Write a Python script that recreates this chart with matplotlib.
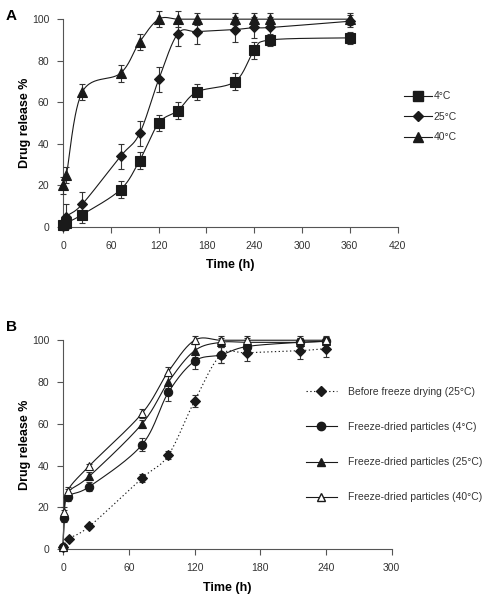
import numpy as np
import matplotlib
matplotlib.use("Agg")
import matplotlib.pyplot as plt
from matplotlib.lines import Line2D

plt.rcParams['font.family'] = ['Liberation Sans', 'DejaVu Sans']

# ---- Panel A data ----
t_a4 = [0, 4, 24, 72, 96, 120, 144, 168, 216, 240, 260, 360]
v_a4 = [1, 2, 6, 18, 32, 50, 56, 65, 70, 85, 90, 91]
e_a4 = [1, 2, 4, 4, 4, 4, 4, 4, 4, 4, 3, 3]

t_a25 = [0, 4, 24, 72, 96, 120, 144, 168, 216, 240, 260, 360]
v_a25 = [0.5, 5, 11, 34, 45, 71, 93, 94, 95, 96, 96, 99]
e_a25 = [2, 6, 6, 6, 6, 6, 6, 6, 6, 5, 5, 3]

t_a40 = [0, 4, 24, 72, 96, 120, 144, 168, 216, 240, 260, 360]
v_a40 = [20, 25, 65, 74, 89, 100, 100, 100, 100, 100, 100, 100]
e_a40 = [4, 4, 4, 4, 4, 4, 4, 3, 3, 3, 3, 3]

# ---- Panel B data ----
t_bb = [0, 5, 24, 72, 96, 120, 144, 168, 216, 240]
v_bb = [1, 5, 11, 34, 45, 71, 93, 94, 95, 96]
e_bb = [1, 1, 1, 2, 2, 3, 4, 4, 4, 4]

t_b4 = [0, 1, 4, 24, 72, 96, 120, 144, 168, 216, 240]
v_b4 = [1, 15, 25, 30, 50, 75, 90, 93, 97, 99, 99.5]
e_b4 = [1, 2, 2, 2, 3, 4, 4, 4, 3, 2, 2]

t_b25 = [0, 1, 4, 24, 72, 96, 120, 144, 168, 216, 240]
v_b25 = [1, 17, 27, 35, 60, 80, 95, 99, 99, 99, 99.5]
e_b25 = [1, 2, 2, 2, 2, 3, 3, 2, 2, 2, 2]

t_b40 = [0, 1, 4, 24, 72, 96, 120, 144, 168, 216, 240]
v_b40 = [1, 18, 28, 40, 65, 85, 100, 100, 100, 100, 100]
e_b40 = [1, 2, 2, 1, 2, 2, 2, 2, 2, 2, 2]


def smooth(x, y, sx, sy, n=30):
    # Excel-style smoothed line (Catmull-Rom / Bezier) in screen-like space
    px = np.asarray(x, float) * sx
    py = np.asarray(y, float) * sy
    P = np.column_stack([px, py])
    P = np.vstack([P[0], P, P[-1]])
    out = []
    u = np.linspace(0, 1, n)[:, None]
    for i in range(1, len(P) - 2):
        p0, p1, p2, p3 = P[i - 1], P[i], P[i + 1], P[i + 2]
        b1 = p1 + (p2 - p0) / 6
        b2 = p2 - (p3 - p1) / 6
        seg = ((1 - u) ** 3) * p1 + 3 * ((1 - u) ** 2) * u * b1 + 3 * (1 - u) * u ** 2 * b2 + u ** 3 * p2
        out.append(seg)
    out = np.vstack(out)
    return out[:, 0] / sx, out[:, 1] / sy


def series(ax, t, v, e, marker, ms, sx, sy, ls='-', mfc='#1a1a1a'):
    xs, ys = smooth(t, v, sx, sy)
    ax.plot(xs, ys, color='#1a1a1a', lw=0.8, ls=ls, zorder=2, clip_on=False)
    eb = ax.errorbar(t, v, yerr=e, fmt='none', ecolor='#333333', elinewidth=0.8,
                     capsize=2.5, capthick=0.8, zorder=3)
    for art in eb.get_children():
        art.set_clip_on(False)
    ax.plot(t, v, ls='none', marker=marker, ms=ms, mfc=mfc, mec='#1a1a1a',
            mew=0.8, zorder=4, clip_on=False)


def style(ax, xmax, xstep):
    for s in ['top', 'right']:
        ax.spines[s].set_visible(False)
    for s in ['left', 'bottom']:
        ax.spines[s].set_color('#555555')
        ax.spines[s].set_linewidth(0.8)
    ax.set_xlim(0, xmax)
    ax.set_ylim(0, 100)
    ax.set_xticks(np.arange(0, xmax + 1, xstep))
    ax.set_yticks(np.arange(0, 101, 20))
    ax.tick_params(direction='out', length=4, width=0.8, color='#555555',
                   labelsize=7.5, labelcolor='#333333', pad=6)
    ax.set_xlabel('Time (h)', fontsize=9, fontweight='bold', labelpad=6)
    ax.set_ylabel('Drug release %', fontsize=9, fontweight='bold', labelpad=1)


fig = plt.figure(figsize=(4.86, 5.99), dpi=100)

# ---------------- Panel A ----------------
axA = fig.add_axes([0.130, 0.621, 0.688, 0.347])
sxA = 335.0 / 420
syA = 208.0 / 100
series(axA, t_a4, v_a4, e_a4, 's', 6.5, sxA, syA)
series(axA, t_a25, v_a25, e_a25, 'D', 5.0, sxA, syA)
series(axA, t_a40, v_a40, e_a40, '^', 6.5, sxA, syA)
style(axA, 420, 60)
fig.text(0.012, 0.985, 'A', fontsize=11, fontweight='bold', va='top')

hA = [Line2D([], [], color='#1a1a1a', lw=0.8, marker=m, ms=s, mfc='#1a1a1a', mec='#1a1a1a')
      for m, s in [('s', 6.5), ('D', 5.0), ('^', 6.5)]]
fig.legend(hA, ['4°C', '25°C', '40°C'], loc='upper left',
           bbox_to_anchor=(0.813, 0.863), frameon=False, fontsize=7.5,
           handlelength=2.6, handletextpad=0.2, labelspacing=1.0,
           labelcolor='#333333')

# ---------------- Panel B ----------------
axB = fig.add_axes([0.130, 0.083, 0.676, 0.349])
sxB = 328.7 / 300
syB = 209.0 / 100
series(axB, t_bb, v_bb, e_bb, 'D', 5.0, sxB, syB, ls=(0, (1.2, 2.2)))
series(axB, t_b4, v_b4, e_b4, 'o', 6.0, sxB, syB)
series(axB, t_b25, v_b25, e_b25, '^', 6.0, sxB, syB)
series(axB, t_b40, v_b40, e_b40, '^', 6.0, sxB, syB, mfc='white')
style(axB, 300, 60)
fig.text(0.012, 0.465, 'B', fontsize=11, fontweight='bold', va='top')

hB = [Line2D([], [], color='#1a1a1a', lw=0.8, ls=(0, (1.2, 2.2)), marker='D', ms=5.0,
             mfc='#1a1a1a', mec='#1a1a1a'),
      Line2D([], [], color='#1a1a1a', lw=0.8, marker='o', ms=6.0, mfc='#1a1a1a', mec='#1a1a1a'),
      Line2D([], [], color='#1a1a1a', lw=0.8, marker='^', ms=6.0, mfc='#1a1a1a', mec='#1a1a1a'),
      Line2D([], [], color='#1a1a1a', lw=0.8, marker='^', ms=6.0, mfc='white', mec='#1a1a1a')]
fig.legend(hB, ['Before freeze drying (25°C)', 'Freeze-dried particles (4°C)',
                'Freeze-dried particles (25°C)', 'Freeze-dried particles (40°C)'],
           loc='upper left', bbox_to_anchor=(0.61, 0.37), frameon=False,
           fontsize=7.5, handlelength=3.0, handletextpad=1.0, labelspacing=2.42,
           labelcolor='#333333')

fig.savefig('out.png', dpi=100)
